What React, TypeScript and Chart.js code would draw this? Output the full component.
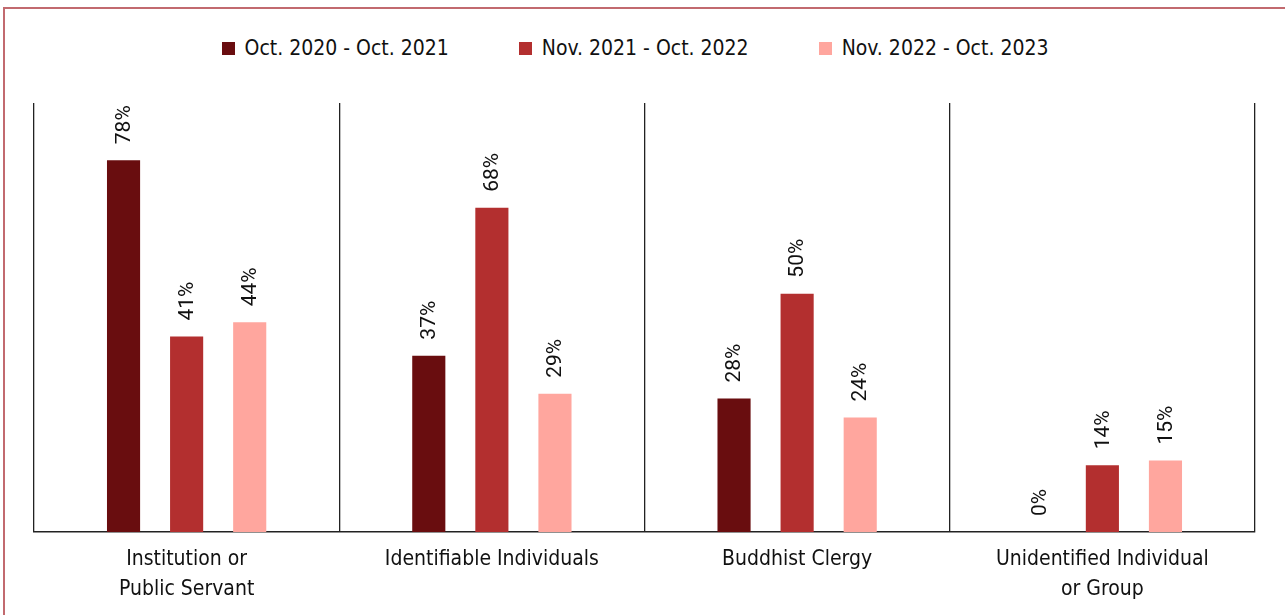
import React, { useEffect, useRef } from "react";
import { Chart, registerables } from "chart.js";

Chart.register(...registerables);

const categories: string[][] = [
  ["Institution or", "Public Servant"],
  ["Identifiable Individuals"],
  ["Buddhist Clergy"],
  ["Unidentified Individual", "or Group"],
];
const seriesNames = ["Oct. 2020 - Oct. 2021", "Nov. 2021 - Oct. 2022", "Nov. 2022 - Oct. 2023"];
const period1 = [78, 37, 28, 0];
const period2 = [41, 68, 50, 14];
const period3 = [44, 29, 24, 15];
const seriesColors = ["#690d0f", "#b32f2f", "#ffa69e"];
const yMax = 90;

const FONT = "'Liberation Sans Narrow', 'DejaVu Sans Condensed', 'Roboto', sans-serif";
const LABEL_FONT = "'Roboto', 'Liberation Sans', sans-serif";

const valueLabels = {
  id: "valueLabels",
  afterDatasetsDraw(chart: any) {
    const ctx = chart.ctx;
    ctx.save();
    ctx.fillStyle = "#111";
    ctx.font = `21px ${LABEL_FONT}`;
    ctx.textAlign = "left";
    ctx.textBaseline = "middle";
    chart.data.datasets.forEach((ds: any, i: number) => {
      const meta = chart.getDatasetMeta(i);
      meta.data.forEach((el: any, j: number) => {
        ctx.save();
        ctx.translate(el.x + 1, el.y - 16);
        ctx.rotate(-Math.PI / 2);
        ctx.fillText(`${ds.data[j]}%`, 0, 0);
        ctx.restore();
      });
    });
    ctx.restore();
  },
};

export default function App() {
  const ref = useRef<HTMLCanvasElement>(null);
  useEffect(() => {
    if (!ref.current) return;
    const chart = new Chart(ref.current, {
      type: "bar",
      data: {
        labels: categories,
        datasets: [period1, period2, period3].map((d, i) => ({
          label: seriesNames[i],
          data: d,
          backgroundColor: seriesColors[i],
          categoryPercentage: 0.62,
          barPercentage: 0.525,
        })),
      },
      options: {
        animation: false,
        responsive: false,
        maintainAspectRatio: false,
        layout: { padding: { left: 34, right: 30, top: 103, bottom: 0 } },
        plugins: { legend: { display: false }, tooltip: { enabled: false } },
        scales: {
          x: {
            grid: { display: true, offset: true, color: "#222", lineWidth: 1.3, drawTicks: false },
            border: { display: true, color: "#222", width: 1.5 },
            ticks: {
              color: "#111",
              font: { family: FONT, size: 21, lineHeight: 1.43 },
              padding: 13,
              maxRotation: 0,
              autoSkip: false,
            },
            afterFit: (scale: any) => {
              scale.height = 83;
            },
          },
          y: {
            display: false,
            min: 0,
            max: yMax,
          },
        },
      },
      plugins: [valueLabels],
    });
    return () => chart.destroy();
  }, []);

  return (
    <div style={{ position: "absolute", left: 0, top: 0, width: 1285, height: 615, overflow: "hidden", background: "#fff" }}>
      <div
        style={{
          position: "absolute",
          left: 3,
          top: 7,
          width: 1300,
          height: 700,
          border: "2px solid #c26a6f",
          boxSizing: "border-box",
        }}
      />
      <div
        style={{
          position: "absolute",
          left: 0,
          top: 36,
          width: 1270,
          display: "flex",
          justifyContent: "center",
          gap: 70,
          fontFamily: FONT,
          fontSize: 21,
          color: "#111",
          lineHeight: "24px",
        }}
      >
        {seriesNames.map((n, i) => (
          <div key={n} style={{ display: "flex", alignItems: "center" }}>
            <span style={{ display: "inline-block", width: 13, height: 13, background: seriesColors[i], marginRight: 10 }} />
            <span>{n}</span>
          </div>
        ))}
      </div>
      <canvas ref={ref} width={1285} height={615} style={{ position: "absolute", left: 0, top: 0 }} />
    </div>
  );
}
